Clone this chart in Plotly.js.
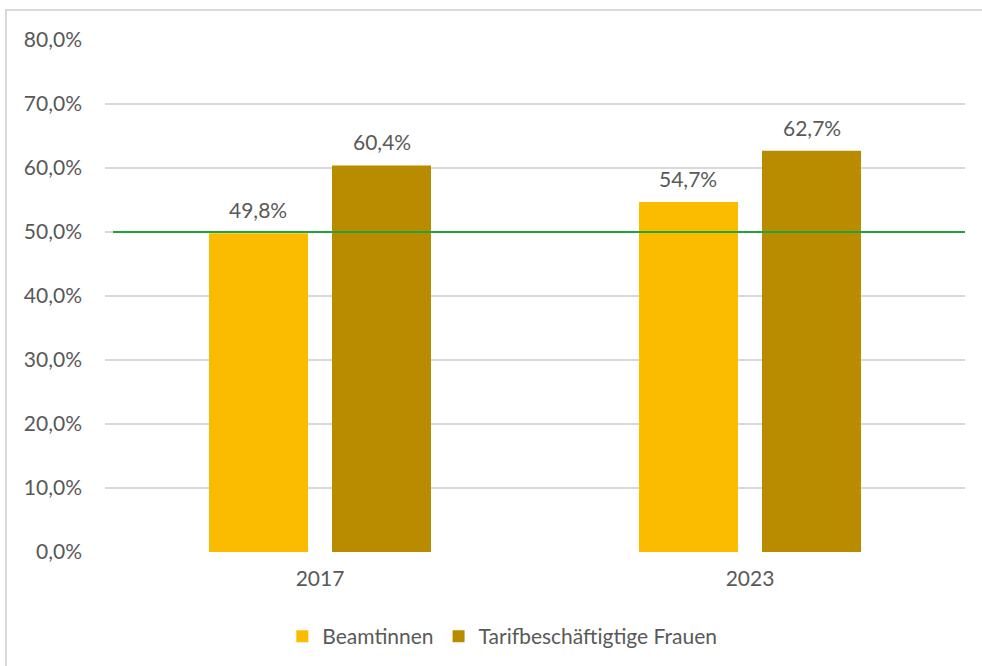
<!DOCTYPE html>
<html><head><meta charset="utf-8">
<script src="https://cdn.plot.ly/plotly-3.0.1.min.js"></script>
<style>
body{margin:0;background:#fff;}
#chart{position:absolute;left:0;top:0;width:982px;height:666px;}
#frame{position:absolute;left:5px;top:9px;width:1200px;height:900px;border-left:2px solid #d9d9d9;border-top:2px solid #d9d9d9;pointer-events:none;}
</style></head>
<body>
<div id="chart"></div>
<div id="frame"></div>
<script>
const categories = ['2017', '2023'];
const seriesNames = ['Beamtinnen', 'Tarifbeschäftigtige Frauen'];
const beamtinnen = [49.8, 54.7];
const tarif = [60.4, 62.7];
const referenceValue = 50;
const colors = ['#FBBC00', '#B98C00'];

const fontFam = 'Lato, "Open Sans", sans-serif';
const grey = '#595959';
const fs = 21;

const seriesValues = [beamtinnen, tarif];
const traces = seriesValues.map((vals, i) => ({
  type: 'bar',
  name: seriesNames[i],
  x: categories,
  y: vals,
  marker: {color: colors[i]},
  hoverinfo: 'skip'
}));

const slotShift = [-62, 62];
const annotations = [];
seriesValues.forEach((vals, i) => {
  vals.forEach((v, j) => {
    annotations.push({
      x: j, y: v, xref: 'x', yref: 'y',
      text: v.toFixed(1).replace('.', ',') + '%',
      showarrow: false, xshift: slotShift[i], yanchor: 'bottom', yshift: 9,
      font: {family: fontFam, size: fs, color: grey}
    });
  });
});

const layout = {
  width: 982, height: 666,
  margin: {l: 105, r: 17, t: 40, b: 114, autoexpand: false},
  paper_bgcolor: '#fff', plot_bgcolor: '#fff',
  separators: ',.',
  barmode: 'group', bargap: 0.428, bargroupgap: 0.195,
  font: {family: fontFam, size: fs, color: grey},
  showlegend: true,
  legend: {orientation: 'h', x: 0.462, xanchor: 'center', y: -0.125, yanchor: 'top',
           font: {family: fontFam, size: fs, color: grey}, itemwidth: 30, tracegroupgap: 0},
  xaxis: {type: 'category', showgrid: false, zeroline: false, showline: false, ticks: '',
          ticklabelstandoff: 12, automargin: false,
          tickfont: {family: fontFam, size: fs, color: grey}},
  yaxis: {range: [0, 80], dtick: 10, tickformat: '.1f', ticksuffix: '%',
          showgrid: true, gridcolor: '#d9d9d9', gridwidth: 1.5, automargin: false,
          zeroline: false, showline: false, ticks: '', ticklabelstandoff: 22,
          tickfont: {family: fontFam, size: fs, color: grey}},
  shapes: [{type: 'line', xref: 'paper', yref: 'y', x0: 0.0093, x1: 1, y0: referenceValue, y1: referenceValue,
            line: {color: '#1FA53C', width: 2}}],
  annotations: annotations
};
Plotly.newPlot('chart', traces, layout, {staticPlot: true, displayModeBar: false});
</script>
</body></html>
